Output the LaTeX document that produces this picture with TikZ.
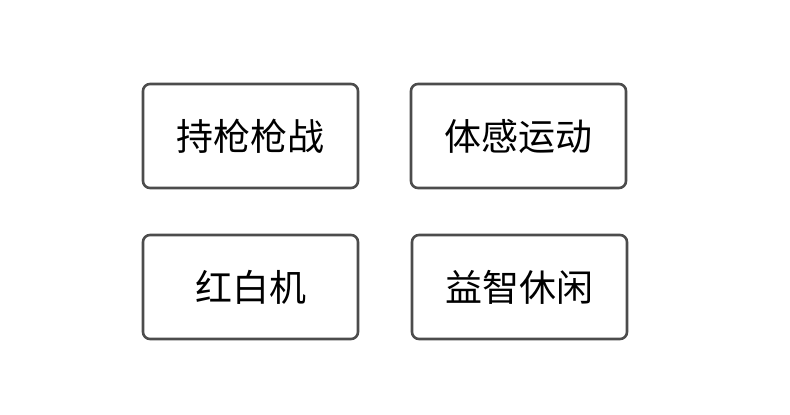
\documentclass[tikz,border=0pt]{standalone}
\usepackage{fontspec}
\newfontfamily\cjk{Noto Sans CJK SC}
\begin{document}
\begin{tikzpicture}[x=1pt,y=1pt,
  box/.style={draw=black!70,line width=2.6pt,rounded corners=7pt,minimum width=215pt,minimum height=104pt,inner sep=0pt,font=\cjk\fontsize{37}{42}\selectfont},
]
\useasboundingbox (0,0) rectangle (790,415);
\node[box] (a) at (250.5,415-136) {持枪枪战};
\node[box] (b) at (518.5,415-136) {体感运动};
\node[box] (c) at (250.5,415-287) {红白机};
\node[box] (d) at (519.5,415-287) {益智休闲};
\end{tikzpicture}
\end{document}
